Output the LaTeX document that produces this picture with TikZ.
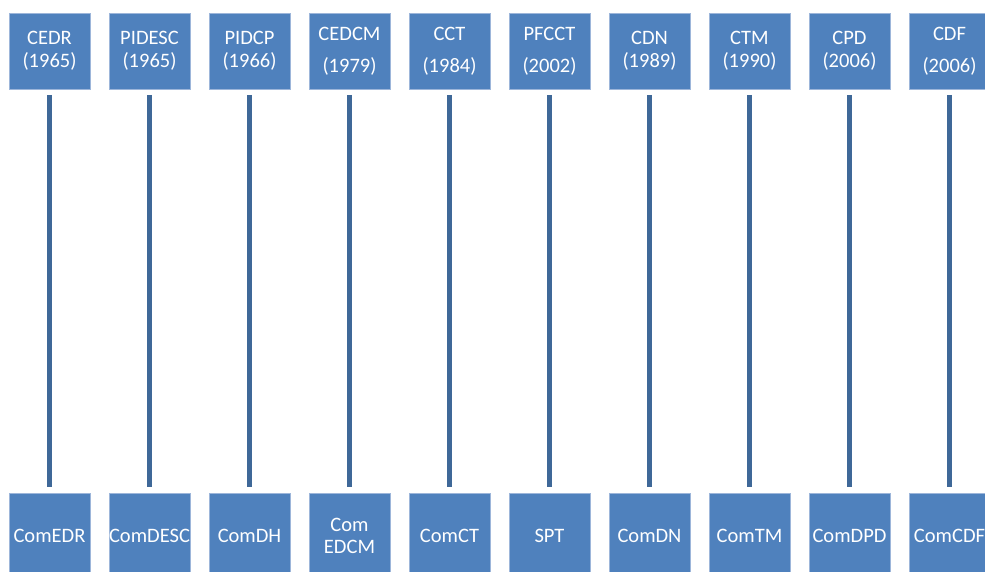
\documentclass[tikz,border=0pt]{standalone}
\usepackage{fontspec}
\setmainfont{Carlito}
\begin{document}
\begin{tikzpicture}[x=1pt,y=-1pt,
  box/.style={draw=boxedge,line width=0.8pt,fill=boxfill,text=white,inner sep=0pt,outer sep=0pt,
    minimum width=81pt,align=center,font=\fontsize{20.5}{22.5}\selectfont},
  topbox/.style={box,minimum height=76pt},
  botbox/.style={box,minimum height=86pt},
  link/.style={draw=linkcol,line width=5.5pt,shorten <=6pt,shorten >=6pt}]
\definecolor{boxfill}{HTML}{4F81BD}
\definecolor{boxedge}{HTML}{9DB6DA}
\definecolor{linkcol}{HTML}{3F6898}
\useasboundingbox (0,0) rectangle (985,572);
\clip (0,0) rectangle (985,572);
\foreach \i/\t/\b [count=\n from 0] in {
  1/{CEDR\\(1965)}/{ComEDR},
  2/{PIDESC\\(1965)}/{ComDESC},
  3/{PIDCP\\(1966)}/{ComDH},
  4/{CEDCM\\[9.5pt](1979)}/{Com\\EDCM},
  5/{CCT\\[9.5pt](1984)}/{ComCT},
  6/{PFCCT\\[9.5pt](2002)}/{SPT},
  7/{CDN\\(1989)}/{ComDN},
  8/{CTM\\(1990)}/{ComTM},
  9/{CPD\\(2006)}/{ComDPD},
  10/{CDF\\[9.5pt](2006)}/{ComCDF}}{
  \node[topbox] (t\i) at (49.5+100*\n,51) {\t};
  \node[botbox] (b\i) at (49.5+100*\n,536) {\b};
  \draw[link] (t\i.south) -- (b\i.north);
}
\end{tikzpicture}
\end{document}
